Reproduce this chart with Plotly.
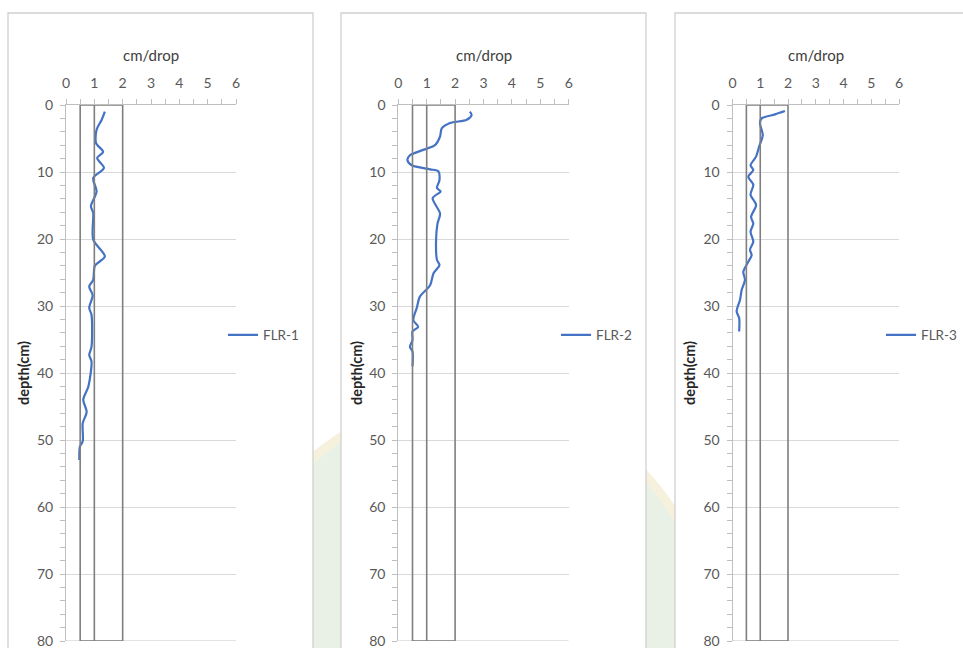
import plotly.graph_objects as go

W, H = 963, 648

# FLR-1 penetration rate (cm/drop) against depth (cm)
flr1_depth = [1.0, 2.2, 3.7, 5.7, 7.0, 7.9, 9.4, 10.9, 12.9, 15.1, 16.1, 20.1, 22.6, 24.0,
              26.1, 27.1, 28.4, 30.3, 31.3, 36.1, 37.3, 38.3, 42.0, 44.0, 45.8, 47.5,
              50.2, 51.0, 53.0]
flr1_rate = [1.37, 1.26, 1.08, 1.06, 1.31, 1.10, 1.34, 0.96, 1.08, 0.88, 0.96, 0.96, 1.37, 1.02,
             0.96, 0.82, 0.94, 0.82, 0.90, 0.90, 0.82, 0.90, 0.79, 0.61, 0.73, 0.59,
             0.59, 0.49, 0.47]

# FLR-2
flr2_depth = [1.0, 1.5, 2.2, 2.7, 3.5, 4.7, 6.0, 6.7, 7.5, 8.2, 9.0, 9.6, 9.9, 11.2, 12.4,
              12.9, 13.9, 16.2, 17.7, 20.1, 23.1, 23.9, 25.1, 26.9, 28.6, 30.3, 32.1,
              33.1, 33.8, 35.1, 36.1, 36.8, 39.0]
flr2_rate = [2.52, 2.58, 2.41, 1.82, 1.53, 1.47, 1.29, 0.88, 0.41, 0.32, 0.47, 1.12, 1.41, 1.45, 1.36,
             1.49, 1.21, 1.47, 1.38, 1.33, 1.36, 1.45, 1.24, 1.12, 0.76, 0.65, 0.53,
             0.70, 0.50, 0.50, 0.41, 0.50, 0.50]

# FLR-3
flr3_depth = [0.9, 1.4, 2.0, 2.7, 4.5, 6.2, 7.7, 9.0, 9.7, 10.7, 11.9, 13.4, 14.9, 16.7,
              17.7, 18.9, 20.4, 21.6, 22.4, 23.4, 24.9, 26.1, 27.6, 29.1, 30.8, 31.8, 33.8]
flr3_rate = [1.89, 1.53, 1.05, 0.99, 1.09, 0.96, 0.85, 0.65, 0.75, 0.57, 0.75, 0.65, 0.85, 0.67,
             0.75, 0.65, 0.75, 0.63, 0.69, 0.57, 0.39, 0.45, 0.33, 0.27, 0.15, 0.24, 0.24]

series = [
    ("FLR-1", flr1_rate, flr1_depth),
    ("FLR-2", flr2_rate, flr2_depth),
    ("FLR-3", flr3_rate, flr3_depth),
]

# reference band drawn on every panel (cm/drop)
band_left, band_mid, band_right = 0.5, 1.0, 2.0
x_range = [0, 6]
depth_max = 80

# pixel layout of each panel
plot_left_px = [66, 398.3, 732.5]
plot_right_px = [236, 568.7, 899]
plot_top_px, plot_bot_px = 105, 641
panel_box_px = [(8, 313), (341, 646), (675, 990)]
legend_x_px = [223, 556, 963]
legend_anchor = ["left", "left", "right"]
ytitle_px = [23, 356, 689]

def px(x):
    return x / W

def py(y):
    return 1 - y / H

LINE_COL = "#4472C4"
TICK_COL = "#595959"
AXIS_COL = "#bfbfbf"
GRID_COL = "#d9d9d9"
BAND_COL = "#7f7f7f"
FONT = "Lato"

fig = go.Figure()
shapes = []
annotations = []

# faint round emblem in the page background
cx, cy, r = 470, 640, 245
shapes.append(dict(type="circle", xref="paper", yref="paper", layer="below",
                   x0=px(cx - r), x1=px(cx + r), y0=py(cy + r), y1=py(cy - r),
                   fillcolor="#f6f1dc", line=dict(width=0)))
r2 = r - 9
shapes.append(dict(type="circle", xref="paper", yref="paper", layer="below",
                   x0=px(cx - r2), x1=px(cx + r2), y0=py(cy + r2), y1=py(cy - r2),
                   fillcolor="#e9f1e7", line=dict(width=0)))

for i, (name, rate, depth) in enumerate(series):
    k = "" if i == 0 else str(i + 1)
    xa, ya = "x" + k, "y" + k
    lg = "legend" + k

    # white chart panel with thin grey border
    x0b, x1b = panel_box_px[i]
    shapes.append(dict(type="rect", xref="paper", yref="paper", layer="below",
                       x0=px(x0b), x1=px(x1b), y0=py(H + 20), y1=py(13),
                       fillcolor="white", line=dict(color="#d0d0d0", width=1.3)))

    fig.add_trace(go.Scatter(
        x=rate, y=depth, mode="lines", name=name,
        line=dict(color=LINE_COL, width=2.2, shape="spline", smoothing=0.8),
        xaxis=xa, yaxis=ya, legend=lg, showlegend=True,
    ))

    dom_x = [px(plot_left_px[i]), px(plot_right_px[i])]
    dom_y = [py(plot_bot_px), py(plot_top_px)]

    fig.layout["xaxis" + k] = dict(
        domain=dom_x, anchor=ya, side="top", range=x_range, dtick=1,
        showline=True, linecolor=AXIS_COL, linewidth=1,
        ticks="outside", ticklen=5, tickcolor=AXIS_COL,
        minor=dict(dtick=0.5, ticks="outside", ticklen=5, tickcolor=AXIS_COL),
        showgrid=False, zeroline=False, fixedrange=True, automargin=False,
        tickfont=dict(family=FONT, size=14, color=TICK_COL),
        ticklabelstandoff=5, ticklabeloverflow="allow",
    )
    fig.layout["yaxis" + k] = dict(
        domain=dom_y, anchor=xa, range=[depth_max, 0], dtick=10,
        showline=True, linecolor=AXIS_COL, linewidth=1,
        ticks="outside", ticklen=5, tickcolor=AXIS_COL,
        minor=dict(dtick=2, ticks="outside", ticklen=5, tickcolor=AXIS_COL),
        showgrid=True, gridcolor=GRID_COL, gridwidth=1.3, zeroline=False,
        fixedrange=True, automargin=False,
        tickfont=dict(family=FONT, size=14, color=TICK_COL),
        ticklabelstandoff=4, ticklabeloverflow="allow",
    )

    # reference band: outer rectangle plus divider at 1 cm/drop
    shapes.append(dict(type="rect", xref=xa, yref=ya, layer="above",
                       x0=band_left, x1=band_right, y0=0, y1=depth_max,
                       line=dict(color=BAND_COL, width=1.6)))
    shapes.append(dict(type="line", xref=xa, yref=ya, layer="above",
                       x0=band_mid, x1=band_mid, y0=0, y1=depth_max,
                       line=dict(color=BAND_COL, width=1.6)))
    # bottom grid line at the end of the depth range
    shapes.append(dict(type="line", xref=xa, yref=ya, layer="below",
                       x0=0, x1=6, y0=depth_max, y1=depth_max,
                       line=dict(color=GRID_COL, width=1.3)))

    # axis titles
    annotations.append(dict(xref="paper", yref="paper", xanchor="center", yanchor="middle",
                            x=px((plot_left_px[i] + plot_right_px[i]) / 2), y=py(55),
                            text="cm/drop", showarrow=False,
                            font=dict(family=FONT, size=15, color="#404040")))
    annotations.append(dict(xref="paper", yref="paper", xanchor="center", yanchor="middle",
                            x=px(ytitle_px[i]), y=py((plot_top_px + plot_bot_px) / 2),
                            text="<b>depth(cm)</b>", textangle=-90, showarrow=False,
                            font=dict(family=FONT, size=14.5, color="#262626")))

    fig.layout[lg] = dict(x=px(legend_x_px[i]), y=py(335), xanchor=legend_anchor[i],
                          yanchor="middle", bgcolor="rgba(0,0,0,0)",
                          font=dict(family=FONT, size=13.5, color=TICK_COL))

fig.update_layout(
    width=W, height=H, margin=dict(l=0, r=0, t=0, b=0),
    paper_bgcolor="white", plot_bgcolor="rgba(0,0,0,0)",
    shapes=shapes, annotations=annotations,
)

fig.write_html("out.html")
